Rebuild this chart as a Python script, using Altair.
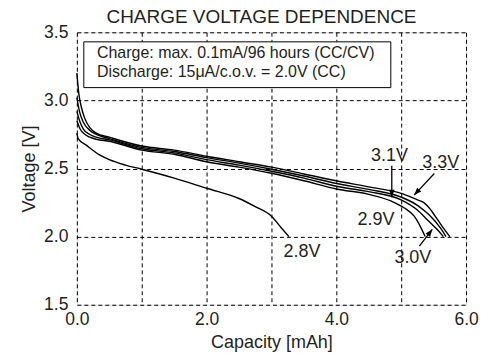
import altair as alt
import pandas as pd

FONT = "Liberation Sans"
INK = "#231f20"

TITLE = "CHARGE VOLTAGE DEPENDENCE"

# ---- curve data (capacity mAh, voltage V) ----
cap_28 = [0.0, 0.02, 0.15, 0.35, 0.5, 0.75, 1.0, 1.5, 2.0, 2.5, 2.75, 3.0, 3.16, 3.27]
v_28 = [2.76, 2.72, 2.67, 2.60, 2.565, 2.525, 2.495, 2.43, 2.355, 2.28, 2.22, 2.15, 2.06, 2.0]

cap_29 = [0.0, 0.05, 0.1, 0.2, 0.3, 0.5, 1.0, 1.5, 2.0, 2.5, 3.0, 3.5, 4.0, 4.5, 4.85, 5.05, 5.2, 5.3, 5.37]
v_29 = [2.85, 2.79, 2.76, 2.73, 2.715, 2.70, 2.635, 2.605, 2.55, 2.51, 2.465, 2.41, 2.35, 2.31, 2.26, 2.21, 2.15, 2.07, 2.0]

cap_30 = [0.0, 0.05, 0.1, 0.2, 0.3, 0.5, 1.0, 1.5, 2.0, 2.5, 3.0, 3.5, 4.0, 4.5, 5.0, 5.25, 5.41, 5.56, 5.65]
v_30 = [2.92, 2.84, 2.79, 2.75, 2.73, 2.71, 2.645, 2.615, 2.565, 2.525, 2.48, 2.43, 2.37, 2.33, 2.27, 2.195, 2.12, 2.05, 2.0]

cap_31 = [0.0, 0.04, 0.1, 0.2, 0.3, 0.5, 1.0, 1.5, 2.0, 2.5, 3.0, 3.5, 4.0, 4.5, 5.0, 5.25, 5.43, 5.61, 5.69]
v_31 = [3.02, 2.92, 2.84, 2.78, 2.75, 2.72, 2.655, 2.625, 2.58, 2.54, 2.495, 2.445, 2.39, 2.347, 2.29, 2.23, 2.16, 2.06, 2.0]

cap_33 = [0.0, 0.03, 0.07, 0.12, 0.2, 0.3, 0.5, 1.0, 1.5, 2.0, 2.5, 3.0, 3.5, 4.0, 4.5, 5.0, 5.25, 5.35, 5.45, 5.51, 5.64, 5.75]
v_33 = [3.2, 3.05, 2.95, 2.87, 2.80, 2.76, 2.73, 2.665, 2.635, 2.59, 2.55, 2.51, 2.46, 2.41, 2.365, 2.317, 2.27, 2.25, 2.20, 2.16, 2.07, 2.0]

series_names = ["2.8V", "2.9V", "3.0V", "3.1V", "3.3V"]
series_caps = [cap_28, cap_29, cap_30, cap_31, cap_33]
series_volts = [v_28, v_29, v_30, v_31, v_33]

# ---- annotation labels ----
label_text = ["2.8V", "2.9V", "3.0V", "3.1V", "3.3V"]
label_x = [3.47, 4.61, 5.18, 4.82, 5.61]
label_y = [1.89, 2.12, 1.84, 2.59, 2.54]

# arrows (start -> tip), angle of head in degrees (0 = pointing up)
arrow_x = [4.855, 5.51, 5.28]
arrow_y = [2.52, 2.463, 1.93]
arrow_x2 = [4.855, 5.20, 5.48]
arrow_y2 = [2.29, 2.305, 2.054]
arrow_angle = [180, 223, 37]

# legend box
box_x = [0.107]
box_x2 = [4.84]
box_y = [3.43]
box_y2 = [3.094]
note_lines = ["Charge: max. 0.1mA/96 hours (CC/CV)", "Discharge: 15\u03bcA/c.o.v. = 2.0V (CC)"]
note_x = [0.31, 0.31]
note_y = [3.345, 3.205]

rows = []
for name, xs_, ys_ in zip(series_names, series_caps, series_volts):
    for i, (xv, yv) in enumerate(zip(xs_, ys_)):
        rows.append({"series": name, "cap": xv, "volt": yv, "i": i})
df = pd.DataFrame(rows)

df_labels = pd.DataFrame({"text": label_text, "x": label_x, "y": label_y})
df_arrows = pd.DataFrame({"x": arrow_x, "y": arrow_y, "x2": arrow_x2, "y2": arrow_y2, "angle": arrow_angle})
df_box = pd.DataFrame({"x": box_x, "x2": box_x2, "y": box_y, "y2": box_y2})
df_note = pd.DataFrame({"text": note_lines, "x": note_x, "y": note_y})
df_title = pd.DataFrame({"text": [TITLE]})

xs = alt.Scale(domain=[0, 6], nice=False, zero=False)
ys = alt.Scale(domain=[1.5, 3.5], nice=False, zero=False)

x_axis = alt.Axis(
    title="Capacity [mAh]",
    values=[0, 0.5, 1, 1.5, 2, 2.5, 3, 3.5, 4, 4.5, 5, 5.5, 6],
    labelExpr="datum.value % 2 == 0 ? format(datum.value, '.1f') : ''",
    grid=True, gridColor="black", gridDash=[4, 3], gridWidth=1, gridOpacity=1,
    ticks=False, domain=False, labelFlush=False,
    labelFont=FONT, labelFontSize=17.5, labelColor=INK, labelPadding=6,
    titleFont=FONT, titleFontSize=18, titleFontWeight="normal", titleColor=INK, titlePadding=5,
)
y_axis = alt.Axis(
    title="Voltage [V]",
    values=[1.5, 2.0, 2.5, 3.0, 3.5],
    format=".1f",
    grid=True, gridColor="black", gridDash=[4, 3], gridWidth=1, gridOpacity=1,
    ticks=False, domain=False, labelFlush=False,
    labelFont=FONT, labelFontSize=17.5, labelColor=INK, labelPadding=9,
    titleFont=FONT, titleFontSize=18, titleFontWeight="normal", titleColor=INK, titlePadding=5,
)

box = alt.Chart(df_box).mark_rect(fill="white", stroke="black", strokeWidth=1).encode(
    x=alt.X("x:Q", scale=xs, axis=x_axis), x2="x2:Q",
    y=alt.Y("y:Q", scale=ys, axis=y_axis), y2="y2:Q",
)

note = alt.Chart(df_note).mark_text(align="left", baseline="middle", font=FONT, fontSize=16, color=INK).encode(
    x=alt.X("x:Q", scale=xs), y=alt.Y("y:Q", scale=ys), text="text:N"
)

lines = alt.Chart(df).mark_line(color="black", strokeWidth=1.4, interpolate="monotone").encode(
    x=alt.X("cap:Q", scale=xs),
    y=alt.Y("volt:Q", scale=ys),
    detail="series:N",
    order="i:Q",
)

labels = alt.Chart(df_labels).mark_text(align="center", baseline="middle", font=FONT, fontSize=18, color=INK).encode(
    x=alt.X("x:Q", scale=xs), y=alt.Y("y:Q", scale=ys), text="text:N"
)

shafts = alt.Chart(df_arrows).mark_rule(color="black", strokeWidth=1.3).encode(
    x=alt.X("x:Q", scale=xs), y=alt.Y("y:Q", scale=ys), x2="x2:Q", y2="y2:Q"
)

heads = alt.Chart(df_arrows).mark_point(
    shape="M0,0L-0.38,1L0.38,1Z", filled=True, color="black", size=220, opacity=1
).encode(
    x=alt.X("x2:Q", scale=xs), y=alt.Y("y2:Q", scale=ys), angle=alt.Angle("angle:Q", scale=None)
)

title = alt.Chart(df_title).mark_text(
    align="center", baseline="alphabetic", font=FONT, fontSize=19, color=INK
).encode(x=alt.value(185), y=alt.value(-9.5), text="text:N")

chart = alt.layer(box, note, lines, shafts, heads, labels, title).properties(
    width=390, height=273,
    autosize=alt.AutoSizeParams(type="none"),
    padding={"left": 69, "top": 24, "right": 26, "bottom": 47},
).configure_view(stroke="black", strokeWidth=3).configure(background="white")

chart.save("out.html", embed_options={"renderer": "svg", "actions": False})
